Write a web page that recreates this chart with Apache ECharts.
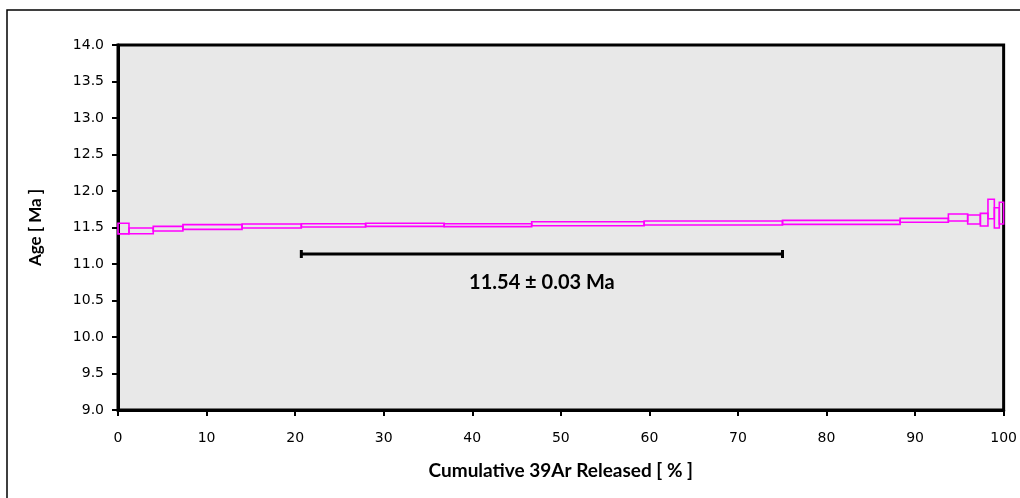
<!DOCTYPE html>
<html>
<head>
<meta charset="utf-8">
<script src="https://cdn.jsdelivr.net/npm/echarts@6/dist/echarts.min.js"></script>
<style>
html,body{margin:0;padding:0;background:#fff;}
#chart{width:1020px;height:498px;}
</style>
</head>
<body>
<div id="chart"></div>
<script>
// Step heating data: cumulative 39Ar released (%) start/end, apparent age (Ma), 1-sigma error (Ma)
const stepStart = [0, 1.24, 3.98, 7.33, 14.01, 20.70, 27.96, 36.83, 46.71, 59.41, 75.03, 88.31, 93.76, 95.94, 97.37, 98.23, 98.95, 99.51];
const stepEnd   = [1.24, 3.98, 7.33, 14.01, 20.70, 27.96, 36.83, 46.71, 59.41, 75.03, 88.31, 93.76, 95.94, 97.37, 98.23, 98.95, 99.51, 100];
const stepAge   = [11.485, 11.454, 11.484, 11.507, 11.520, 11.529, 11.537, 11.532, 11.552, 11.562, 11.570, 11.598, 11.637, 11.610, 11.607, 11.753, 11.632, 11.697];
const stepErr   = [0.073, 0.039, 0.032, 0.032, 0.027, 0.022, 0.021, 0.020, 0.027, 0.027, 0.027, 0.027, 0.048, 0.062, 0.087, 0.133, 0.139, 0.149];

// Plateau
const plateauStart = 20.70;
const plateauEnd = 75.03;
const plateauBarY = 11.137;
const plateauLabel = '11.54 ± 0.03 Ma';

const xTicks = [0, 10, 20, 30, 40, 50, 60, 70, 80, 90, 100];
const yTicks = [9.0, 9.5, 10.0, 10.5, 11.0, 11.5, 12.0, 12.5, 13.0, 13.5, 14.0];

const xTitle = 'Cumulative 39Ar Released [ % ]';
const yTitle = 'Age [ Ma ]';

const stepData = stepStart.map((s, i) => [s, stepEnd[i], stepAge[i] - stepErr[i], stepAge[i] + stepErr[i]]);

const chart = echarts.init(document.getElementById('chart'), null, {renderer: 'canvas'});
chart.setOption({
  animation: false,
  backgroundColor: '#fff',
  graphic: [{
    type: 'rect', shape: {x: 7, y: 10, width: 1030, height: 520},
    style: {fill: 'none', stroke: '#000', lineWidth: 1.5}, z: -1
  }],
  grid: {
    left: 118, top: 45, right: 15, bottom: 88,
    show: true, backgroundColor: '#e8e8e8', borderColor: '#000', borderWidth: 3
  },
  xAxis: {
    type: 'value', min: xTicks[0], max: xTicks[xTicks.length - 1], interval: 10,
    name: xTitle, nameLocation: 'middle', nameGap: 51,
    nameTextStyle: {fontFamily: 'Lato', fontWeight: 'bold', fontSize: 19, color: '#000'},
    axisLine: {show: true, lineStyle: {color: '#000', width: 3}},
    axisTick: {show: true, inside: false, length: 6, lineStyle: {color: '#000', width: 2}},
    axisLabel: {margin: 21, fontFamily: 'DejaVu Sans', fontSize: 14, color: '#000'},
    splitLine: {show: false}
  },
  yAxis: {
    type: 'value', min: yTicks[0], max: yTicks[yTicks.length - 1], interval: 0.5,
    name: yTitle, nameLocation: 'middle', nameGap: 74,
    nameTextStyle: {fontFamily: 'Lato', fontWeight: 'bold', fontSize: 17, color: '#000'},
    axisLine: {show: true, lineStyle: {color: '#000', width: 3}},
    axisTick: {show: true, inside: false, length: 6, lineStyle: {color: '#000', width: 2}},
    axisLabel: {margin: 14, fontFamily: 'DejaVu Sans', fontSize: 14, color: '#000',
      formatter: v => v.toFixed(1)},
    splitLine: {show: false}
  },
  series: [{
    type: 'custom',
    data: stepData,
    clip: false,
    renderItem: (params, api) => {
      const p0 = api.coord([api.value(0), api.value(3)]);
      const p1 = api.coord([api.value(1), api.value(2)]);
      return {
        type: 'rect',
        shape: {x: p0[0], y: p0[1], width: p1[0] - p0[0], height: p1[1] - p0[1]},
        style: {fill: 'none', stroke: '#ff00ff', lineWidth: 1.6}
      };
    }
  }, {
    type: 'custom',
    data: [[plateauStart, plateauEnd, plateauBarY]],
    renderItem: (params, api) => {
      const a = api.coord([api.value(0), api.value(2)]);
      const b = api.coord([api.value(1), api.value(2)]);
      return {
        type: 'group',
        children: [
          {type: 'line', shape: {x1: a[0], y1: a[1], x2: b[0], y2: b[1]}, style: {stroke: '#000', lineWidth: 3}},
          {type: 'line', shape: {x1: a[0], y1: a[1] - 4, x2: a[0], y2: a[1] + 4}, style: {stroke: '#000', lineWidth: 3}},
          {type: 'line', shape: {x1: b[0], y1: b[1] - 4, x2: b[0], y2: b[1] + 4}, style: {stroke: '#000', lineWidth: 3}},
          {type: 'text', x: (a[0] + b[0]) / 2, y: a[1] + 29,
            style: {text: plateauLabel, fontFamily: 'Lato', fontWeight: 'bold', fontSize: 20,
              fill: '#000', align: 'center', verticalAlign: 'middle'}}
        ]
      };
    }
  }]
});
</script>
</body>
</html>
